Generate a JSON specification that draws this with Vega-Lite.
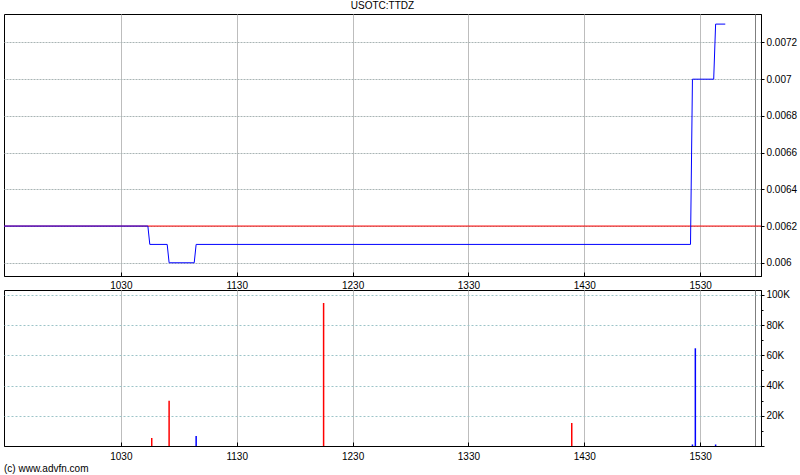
{
  "$schema": "https://vega.github.io/schema/vega-lite/v6.json",
  "padding": {"left": 3, "top": 0, "right": 0, "bottom": 0},
  "autosize": {"type": "pad"},
  "background": "white",
  "bounds": "flush",
  "spacing": 14,
  "config": {
    "view": {"stroke": "black", "strokeWidth": 1},
    "font": "Liberation Sans Narrow, Arial Narrow, Liberation Sans",
    "axis": {"labelFont": "Liberation Sans Narrow, Arial Narrow, Liberation Sans", "labelFontSize": 10, "labelColor": "black", "domainColor": "black", "tickColor": "black", "title": null}
  },
  "datasets": {
    "price": [
      {"t": 569.5, "price": 0.0062},
      {"t": 644, "price": 0.0062},
      {"t": 645, "price": 0.0061},
      {"t": 654, "price": 0.0061},
      {"t": 655, "price": 0.006},
      {"t": 668, "price": 0.006},
      {"t": 669, "price": 0.0061},
      {"t": 925, "price": 0.0061},
      {"t": 926, "price": 0.007},
      {"t": 937, "price": 0.007},
      {"t": 938, "price": 0.0073},
      {"t": 943, "price": 0.0073}
    ],
    "prevclose": [
      {"close": 0.0062}
    ],
    "volume": [
      {"t": 646, "volume": 5300, "dir": "down"},
      {"t": 655, "volume": 30000, "dir": "down"},
      {"t": 669, "volume": 6600, "dir": "up"},
      {"t": 735, "volume": 94700, "dir": "down"},
      {"t": 863.5, "volume": 15200, "dir": "down"},
      {"t": 926, "volume": 1000, "dir": "up"},
      {"t": 927.5, "volume": 64700, "dir": "up"},
      {"t": 938, "volume": 1000, "dir": "up"}
    ]
  },
  "vconcat": [
    {
      "width": 757,
      "height": 262,
      "title": {"text": "USOTC:TTDZ", "anchor": "middle", "fontSize": 10, "fontWeight": "normal", "color": "black", "offset": 3, "font": "Liberation Sans Narrow, Arial Narrow, Liberation Sans"},
      "layer": [
        {
          "data": {"name": "prevclose"},
          "mark": {"type": "rule", "color": "#ff0000", "strokeWidth": 1},
          "encoding": {"y": {"field": "close", "type": "quantitative"}}
        },
        {
          "data": {"name": "price"},
          "mark": {"type": "line", "color": "#0000ff", "strokeWidth": 1, "clip": true},
          "encoding": {
            "x": {"field": "t", "type": "quantitative",
              "scale": {"domain": [569.5, 961.5], "nice": false, "zero": false},
              "axis": {"orient": "bottom", "values": [630, 690, 750, 810, 870, 930, 958.5],
                "labelExpr": "datum.value > 950 ? '' : '' + (floor(datum.value/60)*100 + datum.value%60)",
                "grid": true,
                "gridColor": {"condition": {"test": "datum.value > 950", "value": "#7f7f7f"}, "value": "#bdbdbd"},
                "tickSize": {"condition": {"test": "datum.value > 950", "value": 0}, "value": -4},
                "labelPadding": 8}
            },
            "y": {"field": "price", "type": "quantitative",
              "scale": {"domain": [0.005928, 0.007355], "nice": false, "zero": false},
              "axis": {"orient": "right",
                "values": [0.006, 0.0061, 0.0062, 0.0063, 0.0064, 0.0065, 0.0066, 0.0067, 0.0068, 0.0069, 0.007, 0.0071, 0.0072, 0.0073],
                "labelExpr": "round(datum.value*10000) % 2 == 0 ? '' + datum.value : ''",
                "grid": true, "gridColor": "#a9b4b4", "gridDash": [2, 1],
                "gridOpacity": {"condition": {"test": "round(datum.value*10000) % 2 == 0", "value": 1}, "value": 0},
                "tickSize": {"condition": {"test": "round(datum.value*10000) % 2 == 0", "value": 3}, "value": 2},
                "labelPadding": 2}
            }
          }
        }
      ]
    },
    {
      "width": 757,
      "height": 156,
      "title": {"text": "(c) www.advfn.com", "orient": "bottom", "anchor": "start", "fontSize": 10, "fontWeight": "normal", "color": "black", "offset": 3, "font": "Liberation Sans Narrow, Arial Narrow, Liberation Sans"},
      "data": {"name": "volume"},
      "mark": {"type": "rule", "strokeWidth": 1.5},
      "encoding": {
        "x": {"field": "t", "type": "quantitative",
          "scale": {"domain": [569.5, 961.5], "nice": false, "zero": false},
          "axis": {"orient": "bottom", "values": [630, 690, 750, 810, 870, 930, 958.5],
            "labelExpr": "datum.value > 950 ? '' : '' + (floor(datum.value/60)*100 + datum.value%60)",
            "grid": true,
            "gridColor": {"condition": {"test": "datum.value > 950", "value": "#7f7f7f"}, "value": "#bdbdbd"},
            "tickSize": {"condition": {"test": "datum.value > 950", "value": 0}, "value": -4},
            "labelPadding": 9}
        },
        "y": {"field": "volume", "type": "quantitative",
          "scale": {"domain": [0, 103300], "nice": false},
          "axis": {"orient": "right",
            "values": [0, 10000, 20000, 30000, 40000, 50000, 60000, 70000, 80000, 90000, 100000],
            "labelExpr": "datum.value > 0 && datum.value % 20000 == 0 ? (datum.value/1000) + 'K' : ''",
            "grid": true, "gridColor": "#9cc4c8", "gridDash": [2, 2],
            "gridOpacity": {"condition": {"test": "datum.value > 0 && datum.value % 20000 == 0", "value": 1}, "value": 0},
            "tickSize": {"condition": {"test": "datum.value % 20000 == 0", "value": 3}, "value": 2},
            "labelPadding": 2}
        },
        "y2": {"datum": 0},
        "color": {"field": "dir", "type": "nominal",
          "scale": {"domain": ["up", "down"], "range": ["#0000ff", "#ff0000"]},
          "legend": null}
      }
    }
  ]
}
